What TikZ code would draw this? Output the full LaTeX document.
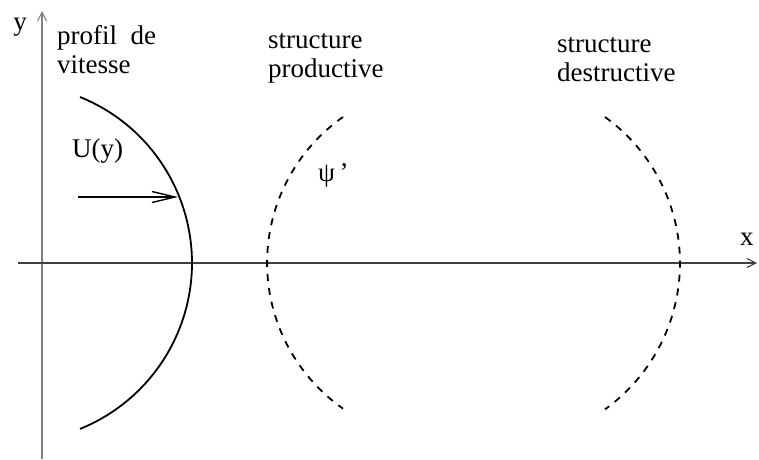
\documentclass[tikz,border=0pt]{standalone}
\usepackage{fontspec}
\setmainfont{Liberation Serif}
\usetikzlibrary{arrows.meta}
\begin{document}
\begin{tikzpicture}[x=1pt,y=1pt,
  lbl/.style={inner sep=0pt, font=\fontsize{27}{29}\selectfont, align=left},
  axisline/.style={line width=1.2pt},
  axtip/.style={-{Straight Barb[length=9pt,width=9pt,line width=1.1pt]}},
  profile/.style={line width=1.8pt},
  struct/.style={line width=1.8pt, dash pattern=on 7pt off 7pt},
  ]
\useasboundingbox (0,0) rectangle (759,459);
% axes
\coordinate (yb) at (42,0);
\coordinate (yt) at (42,448);
\coordinate (xl) at (18,196);
\coordinate (xr) at (757,196);
\draw[axisline, axtip, black!50] (yb) -- (yt);
\draw[axisline, axtip, black!75] (xl) -- (xr);
% velocity profile
\coordinate (ptop) at (80,362);
\draw[profile] (ptop) arc[start angle=68, end angle=-68, radius=179];
\coordinate (ua) at (78,262);
\coordinate (ub) at (178,262);
\draw[line width=1.5pt, -{Straight Barb[length=23pt,width=11pt,line width=1.4pt]}] (ua) -- (ub);
% structures
\coordinate (s1top) at (343,342);
\draw[struct] (s1top) arc[start angle=125, end angle=235, radius=178];
\coordinate (s2top) at (605,342);
\draw[struct] (s2top) arc[start angle=54.3, end angle=-54.3, radius=180];
% labels
\node[lbl, anchor=base] (ylab) at (20,428) {y};
\node[lbl, anchor=base west] (xlab) at (740,214) {x};
\node[lbl, anchor=base west] (prof) at (57,386) {profil\ \ de\\vitesse};
\node[lbl, anchor=base west] (uy) at (72,302) {U(y)};
\node[lbl, anchor=base west] (sp) at (268,382) {structure\\productive};
\node[lbl, anchor=base west] (sd) at (557,378) {structure\\destructive};
\node[lbl, anchor=base west] (psi) at (318,278) {ψ\,’};
\end{tikzpicture}
\end{document}
